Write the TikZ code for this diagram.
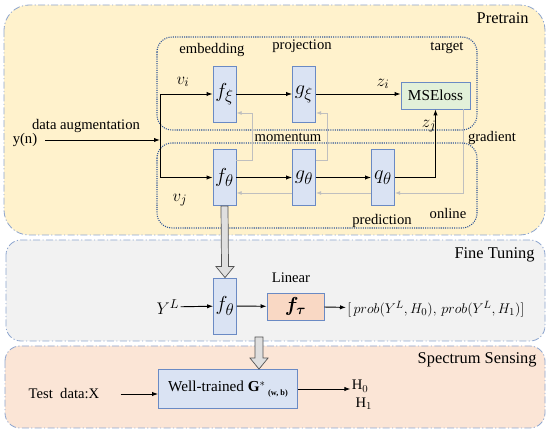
\documentclass[tikz,border=0pt]{standalone}
\usepackage{amsmath, amssymb, bm}
\usepackage{fontspec}
\setmainfont{Liberation Serif}
\usetikzlibrary{positioning,arrows.meta,calc}
\definecolor{boxblue}{HTML}{DAE3F3}
\definecolor{edgeblue}{HTML}{6A8AC4}
\definecolor{framegray}{HTML}{8EA6CF}
\definecolor{dotblue}{HTML}{2F5597}
\definecolor{pretrainbg}{HTML}{FFF2CC}
\definecolor{finebg}{HTML}{F2F2F2}
\definecolor{sensebg}{HTML}{FBE5D6}
\definecolor{lossgreen}{HTML}{E2F0D9}
\definecolor{linbg}{HTML}{F9D8C4}
\tikzset{
  flowarrow/.style={-{Latex[length=1.8mm,width=1.3mm]}, line width=0.8pt},
  backarrow/.style={-{Latex[length=1.6mm,width=1.2mm]}, line width=0.7pt, gray!50},
  hollowarrow/.style={draw=gray!65!black, fill=gray!25, line width=0.6pt},
  stageframe/.style={draw=framegray, line width=0.7pt, dash pattern=on 6pt off 2pt on 1pt off 2pt},
  groupframe/.style={draw=dotblue, line width=0.9pt, densely dotted, rounded corners=0.45cm},
  netbox/.style={draw=edgeblue, fill=boxblue, line width=0.7pt, minimum width=0.69cm, minimum height=1.68cm, inner sep=0pt, font=\fontsize{19}{19}\selectfont},
  lossbox/.style={draw=edgeblue, fill=lossgreen, line width=0.7pt, minimum width=2.07cm, minimum height=0.81cm, font=\fontsize{13}{15}\selectfont},
  tag/.style={font=\fontsize{12.5}{14}\selectfont, inner sep=1pt},
  mathtag/.style={font=\fontsize{15}{16}\selectfont, inner sep=1pt},
  stagetitle/.style={font=\fontsize{14}{16}\selectfont, inner sep=1pt, anchor=east}
}

\begin{document}
\begin{tikzpicture}[x=0.03cm, y=-0.03cm]
  \useasboundingbox (0,0) rectangle (550,433);
  \draw[stageframe, fill=pretrainbg, rounded corners=0.75cm] (4,5) rectangle (545,235);
  \draw[stageframe, fill=finebg, rounded corners=0.45cm] (6,240) rectangle (545,341);
  \draw[stageframe, fill=sensebg, rounded corners=0.45cm] (5,346) rectangle (545,428);
  \draw[groupframe] (157,37) rectangle (477,130);
  \draw[groupframe] (157,143) rectangle (477,228);

  \node[stagetitle] (pretraintitle) at (530,18) {Pretrain};
  \node[stagetitle] (finetitle) at (536,255) {Fine Tuning};
  \node[stagetitle] (sensetitle) at (538,360) {Spectrum Sensing};

  \node[tag] (embed) at (212,50) {embedding};
  \node[tag] (proj) at (302,46) {projection};
  \node[tag] (target) at (447,48) {target};
  \node[tag] (moment) at (288,137) {momentum};
  \node[tag] (grad) at (492,138) {gradient};
  \node[tag] (pred) at (382,221) {prediction};
  \node[tag] (online) at (448,213) {online};

  \node[tag] (yn) at (25,140) {y(n)};
  \node[tag] (aug) at (86,126) {data augmentation};
  \coordinate (split) at (160,140);

  \node[netbox] (fxi) at (224.5,94) {$f_\xi$};
  \node[netbox] (gxi) at (304,94) {$g_\xi$};
  \node[netbox] (fth) at (224.5,177.5) {$f_\theta$};
  \node[netbox] (gth) at (304,177.5) {$g_\theta$};
  \node[netbox] (qth) at (383,177.5) {$q_\theta$};
  \node[lossbox] (mse) at (435.5,95.5) {MSEloss};

  \node[mathtag] (vi) at (183,82) {$v_i$};
  \node[mathtag] (vj) at (180,200) {$v_j$};
  \node[mathtag] (zi) at (383,84) {$z_i$};
  \node[mathtag] (zj) at (429,126) {$z_j$};

  \draw[flowarrow, shorten <=0.2cm] (yn) -- (split);
  \draw[flowarrow] (split) |- (fxi);
  \draw[flowarrow] (split) |- (fth);
  \draw[flowarrow] (fxi) -- (gxi);
  \draw[flowarrow] (gxi) -- (gxi -| mse.west);
  \draw[flowarrow] (fth) -- (gth);
  \draw[flowarrow] (gth) -- (qth);
  \draw[flowarrow] (qth) -| (mse);

  \draw[backarrow] ($(fth.east)+(0,-17.5)$) -| ($(fxi.east)+(16,19)$) -- ($(fxi.east)+(0,19)$);
  \draw[backarrow] ($(gth.east)+(0,-17.5)$) -| ($(gxi.east)+(11,19)$) -- ($(gxi.east)+(0,19)$);
  \draw[backarrow] ($(mse.south east)+(-7,0)$) |- ($(qth.east)+(0,15.5)$);
  \draw[backarrow] ($(qth.west)+(0,15.5)$) -- ($(gth.east)+(0,15.5)$);
  \draw[backarrow] ($(gth.west)+(0,15.5)$) -- ($(fth.east)+(0,15.5)$);

  \node[netbox] (ftf) at (225,306) {$f_\theta$};
  \node[draw=edgeblue, fill=linbg, line width=0.7pt, minimum width=1.71cm, minimum height=0.81cm] (lin) at (295.5,306.5) {\LARGE$\boldsymbol{f}_{\boldsymbol{\tau}}$};
  \node[tag] (linear) at (291,278) {Linear};
  \node[mathtag] (yl) at (168,307) {$Y^L$};
  \node[tag, anchor=west] (prob) at (346,309) {$[\,prob(Y^L,H_0),\,prob(Y^L,H_1)]$};

  \draw[hollowarrow] ($(fth.south)+(-3.5,0)$) -- ($(ftf.north)+(-3.5,-11)$) -- ($(ftf.north)+(-9,-11)$) -- (ftf.north) -- ($(ftf.north)+(9,-11)$) -- ($(ftf.north)+(3.5,-11)$) -- ($(fth.south)+(3.5,0)$) -- cycle;
  \draw[flowarrow] (yl) -- (ftf);
  \draw[flowarrow] (ftf) -- (lin);
  \draw[flowarrow] (lin) -- (prob);

  \node[draw=edgeblue, fill=boxblue, line width=0.7pt, minimum width=4.17cm, minimum height=1.17cm, font=\fontsize{13}{15}\selectfont] (wt) at (228,389) {Well-trained \textbf{G}$^{*}$\,\raisebox{-0.5ex}{\scriptsize\textbf{(w, b)}}};
  \node[tag] (test) at (64,394) {Test~~data:X};
  \node[tag, align=left] (hout) at (362,395) {H$_0$\\[1pt]\ H$_1$};
  \coordinate (ftbottom) at (259,337);

  \draw[hollowarrow] ($(ftbottom)+(-4,0)$) -- ($(ftbottom |- wt.north)+(-4,-11)$) -- ($(ftbottom |- wt.north)+(-9,-11)$) -- (ftbottom |- wt.north) -- ($(ftbottom |- wt.north)+(9,-11)$) -- ($(ftbottom |- wt.north)+(4,-11)$) -- ($(ftbottom)+(4,0)$) -- cycle;
  \draw[flowarrow, shorten <=0.6cm] (test) -- (test -| wt.west);
  \draw[flowarrow] (wt.east) -- (wt.east -| hout.west);
\end{tikzpicture}
\end{document}
